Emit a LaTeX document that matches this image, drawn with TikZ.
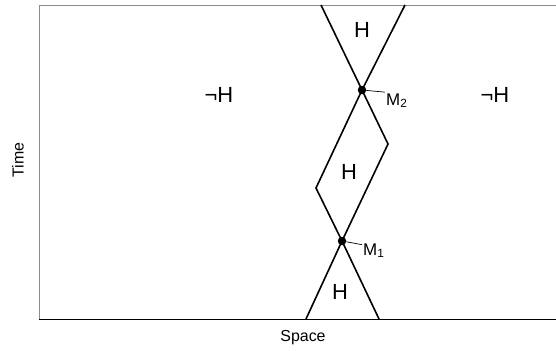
\documentclass[tikz,border=0pt]{standalone}
\usepackage{fontspec}
\setmainfont{Liberation Sans}
\usetikzlibrary{positioning}
\tikzset{
    % Frame
    axisGray/.style={draw=gray!90, line width=1bp},
    axisBlack/.style={draw=black, line width=1bp},
    % Lines & events
    worldline/.style={draw=black, line width=1.6bp, line join=miter},
    event/.style={circle, fill=black, inner sep=0pt, minimum size=8.5bp},
    tag/.style={draw=black, line width=0.7bp},
    % Labels
    evlbl/.style={inner sep=1bp, anchor=base west, font=\fontsize{17}{17}\selectfont},
    region/.style={inner sep=0pt, font=\fontsize{22}{22}\selectfont},
    axislbl/.style={inner sep=0pt, font=\fontsize{16}{16}\selectfont}
}

\begin{document}
\begin{tikzpicture}[x=1bp, y=-1bp]
\useasboundingbox (0,0) rectangle (556,350);

% frame
\coordinate (tl) at (39,5);
\coordinate (tr) at (556,5);
\coordinate (bl) at (39,319);
\coordinate (br) at (556,319);
\draw[axisGray] (bl) -- (tl) -- (tr);
\draw[axisBlack] (bl) -- (br);

% corners of the regions
\coordinate (topL) at (321,5);
\coordinate (topR) at (405,5);
\coordinate (midR) at (388,144);
\coordinate (midL) at (316,188);
\coordinate (botL) at (306,319);
\coordinate (botR) at (379,319);
\coordinate (m2c) at (362,90);
\coordinate (m1c) at (342,241);

\draw[worldline] (topL) -- (m2c) -- (midR) -- (m1c) -- (botL);
\draw[worldline] (topR) -- (m2c) -- (midL) -- (m1c) -- (botR);

% events
\node[event] (m2) at (m2c) {};
\node[event] (m1) at (m1c) {};
\node[evlbl] (m2lbl) at (385,105) {M\textsubscript{2}};
\node[evlbl] (m1lbl) at (362,255) {M\textsubscript{1}};
\draw[tag] (m2) -- (m2lbl.north west);
\draw[tag] (m1) -- ([yshift=-2.5bp]m1lbl.north west);

% regions
\node[region] (htop) at (362,30) {H};
\node[region] (hmid) at (349,172) {H};
\node[region] (hbot) at (340,292) {H};
\node[region] (nleft) at (219,95) {¬H};
\node[region] (nright) at (495,95) {¬H};

% axes
\node[axislbl, rotate=90] (time) at (18,160) {Time};
\node[axislbl] (space) at (303,338) {Space};

\end{tikzpicture}
\end{document}
